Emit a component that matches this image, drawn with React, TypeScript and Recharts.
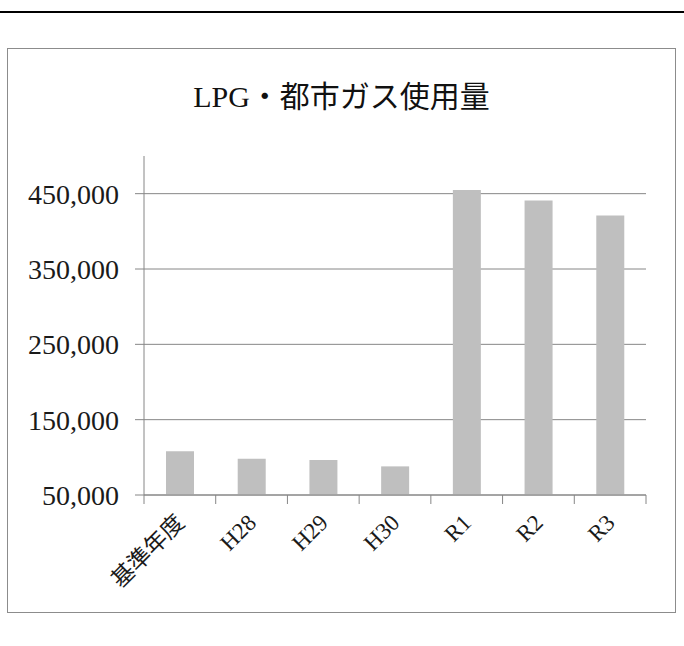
import { BarChart, Bar, XAxis, YAxis, CartesianGrid } from 'recharts';

const categories = ['基準年度', 'H28', 'H29', 'H30', 'R1', 'R2', 'R3'];
const usage = [108000, 98000, 96500, 88000, 455000, 441000, 421000];
const yTicks = [50000, 150000, 250000, 350000, 450000];

const data = categories.map((name, i) => ({ name, value: usage[i] }));

const FONT = "'Liberation Serif', 'Noto Sans CJK JP', serif";

// x tick: boundary tick marks like Excel, label rotated -45deg
const CategoryTick = (props: any) => {
    const { x, y, payload, index } = props;
    const half = payload && payload.offset ? payload.offset : 35.86;
    const last = index === categories.length - 1;
    const tx = x + 6;
    const ty = y + 29;
    return (
        <g>
            <line x1={x - half} y1={y} x2={x - half} y2={y + 9} stroke="#868686" strokeWidth={1} />
            {last && <line x1={x + half} y1={y} x2={x + half} y2={y + 9} stroke="#868686" strokeWidth={1} />}
            <text
                x={tx}
                y={ty}
                textAnchor="end"
                transform={`rotate(-45, ${tx}, ${ty})`}
                fontFamily={FONT}
                fontSize={23}
                fill="#1a1a1a"
            >
                {payload.value}
            </text>
        </g>
    );
};

export default function App() {
    return (
        <div style={{ position: 'absolute', left: 0, top: 0, width: 684, height: 646, background: '#fff' }}>
            {/* rule at top of page */}
            <div style={{ position: 'absolute', left: 0, top: 11, width: 684, height: 2, background: '#000' }}></div>
            {/* chart frame */}
            <div style={{ position: 'absolute', left: 7, top: 48, width: 667, height: 563, border: '1px solid #8c8c8c' }}></div>
            <div style={{
                position: 'absolute', left: 7, top: 77, width: 669, height: 40, lineHeight: '40px',
                textAlign: 'center', fontFamily: FONT, fontSize: 30, color: '#111'
            }}>
                LPG・都市ガス使用量
            </div>
            <div style={{ position: 'absolute', left: 0, top: 0 }}>
                <BarChart width={684} height={646} data={data} margin={{ top: 156, right: 38, left: 14, bottom: 51 }}>
                    <CartesianGrid vertical={false} horizontalValues={yTicks} stroke="#868686" strokeWidth={1} />
                    <XAxis
                        dataKey="name"
                        height={100}
                        interval={0}
                        tickLine={false}
                        tickSize={0}
                        tickMargin={0}
                        axisLine={{ stroke: '#868686' }}
                        tick={<CategoryTick />}
                    />
                    <YAxis
                        width={130}
                        domain={[50000, 500000]}
                        ticks={yTicks}
                        allowDataOverflow
                        tickSize={9}
                        tickMargin={16}
                        tickLine={{ stroke: '#868686' }}
                        axisLine={{ stroke: '#868686' }}
                        tickFormatter={(v: number) => v.toLocaleString('en-US')}
                        tick={{ fontFamily: FONT, fontSize: 28, fill: '#1a1a1a' }}
                    />
                    <Bar dataKey="value" fill="#bfbfbf" barSize={28} isAnimationActive={false} />
                </BarChart>
            </div>
        </div>
    );
}
